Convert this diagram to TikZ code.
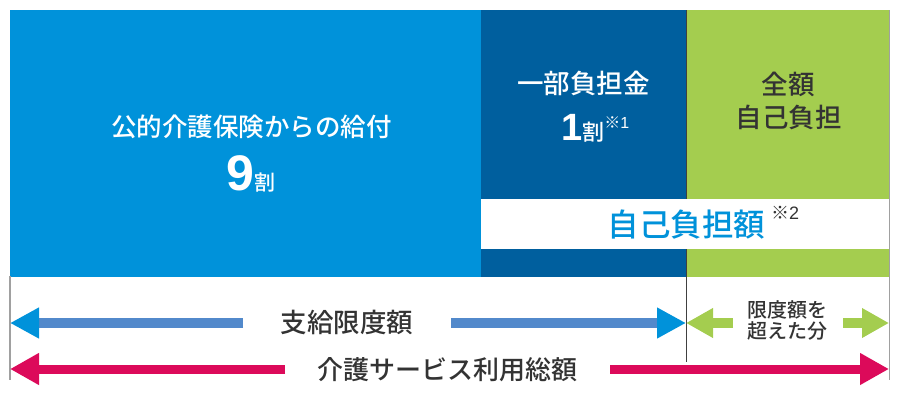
\documentclass[tikz,border=0pt]{standalone}
\usepackage{fontspec}
\setmainfont{Noto Sans CJK JP}
\newfontfamily\jpfont{Noto Sans CJK JP Medium}
\newfontfamily\numfont{Liberation Sans}
\usetikzlibrary{arrows.meta}
\definecolor{lblue}{RGB}{0,146,218}
\definecolor{dblue}{RGB}{0,95,158}
\definecolor{lgreen}{RGB}{164,205,79}
\definecolor{shaftblue}{RGB}{82,137,203}
\definecolor{magenta2}{RGB}{220,10,90}
\definecolor{txtgray}{RGB}{51,51,51}
\definecolor{edgegray}{RGB}{160,160,160}
\begin{document}
\begin{tikzpicture}[x=1pt,y=-1pt,
  block/.style={draw=none,inner sep=0pt,outer sep=0pt,anchor=north west},
  wtxt/.style={inner sep=0pt,text=white},
  gtxt/.style={inner sep=0pt,text=txtgray},
  fs/.style={font=\jpfont\fontsize{#1}{#1}\selectfont},
  bluearrow/.style={line width=10pt,draw=shaftblue,-{Triangle[length=29pt,width=29pt,color=lblue]}},
  greenarrow/.style={line width=10pt,draw=lgreen,-{Triangle[length=27pt,width=28pt]}},
  magarrow/.style={line width=9pt,draw=magenta2,-{Triangle[length=29pt,width=30pt]}}
]
\useasboundingbox (0,0) rectangle (900,407);
% blocks
\node[block,fill=lblue,minimum width=471pt,minimum height=267pt] (pub) at (10,10) {};
\node[block,fill=dblue,minimum width=205pt,minimum height=267pt] (part) at (481,10) {};
\node[block,fill=lgreen,minimum width=203pt,minimum height=267pt] (full) at (686,10) {};
% divider and edges
\coordinate (divtop) at (686,10);
\coordinate (divbot) at (686,362);
\draw[line width=0.9pt,black!75] (divtop) -- (divbot);
\coordinate (ltop) at (10,276);
\coordinate (lbot) at (10,380);
\draw[line width=1.5pt,edgegray] (ltop) -- (lbot);
\coordinate (rtop) at (889.5,10);
\coordinate (rbot) at (889.5,380);
\draw[line width=1.5pt,edgegray] (rtop) -- (rbot);
% white band
\node[block,fill=white,minimum width=408pt,minimum height=50pt] (band) at (481,199) {};
% texts in blocks
\node[wtxt,fs=25.5] (kyufu) at (251.5,127) {公的介護保険からの給付};
\node[wtxt,anchor=base west] (nine) at (226,190) {{\numfont\bfseries\fontsize{50}{50}\selectfont 9}{\jpfont\fontsize{21}{21}\selectfont 割}};
\node[wtxt,fs=26.5] (ichibu) at (583.5,83) {一部負担金};
\node[wtxt,anchor=base west] (one) at (561,140) {{\numfont\bfseries\fontsize{38}{38}\selectfont 1}{\jpfont\fontsize{22}{22}\selectfont 割}\raisebox{12pt}{\jpfont\fontsize{16}{16}\selectfont ※\numfont 1}};
\node[gtxt,fs=26.5] (zengaku) at (788,84) {全額};
\node[gtxt,fs=26.5] (jikofutan) at (788.5,117) {自己負担};
\node[inner sep=0pt,text=lblue,fs=31.5] (jikogaku) at (686.5,225) {自己負担額};
\node[inner sep=0pt,text=txtgray,anchor=west,font=\jpfont\fontsize{18}{18}\selectfont] (note2) at (771,213) {※\numfont 2};
% labels
\node[gtxt,fs=26.5] (shikyu) at (347,322) {支給限度額};
\node[gtxt,fs=26] (sougaku) at (447.5,370) {介護サービス利用総額};
\node[gtxt,font=\jpfont\fontsize{20}{20}\selectfont,align=center] (excess) at (787.5,320) {限度額を\\[1pt]超えた分};
% arrow coordinates
\coordinate (bL) at (10,323);
\coordinate (bLt) at (243,323);
\coordinate (bRt) at (451,323);
\coordinate (bR) at (686,323);
\coordinate (gLt) at (733,323);
\coordinate (gRt) at (843,323);
\coordinate (gR) at (889,323);
\coordinate (mL) at (10,369);
\coordinate (mLt) at (285,369);
\coordinate (mRt) at (610,369);
\coordinate (mR) at (889,369);
% arrows
\draw[bluearrow] (bLt) -- (bL);
\draw[bluearrow] (bRt) -- (bR);
\draw[greenarrow] (gLt) -- (bR);
\draw[greenarrow] (gRt) -- (gR);
\draw[magarrow] (mLt) -- (mL);
\draw[magarrow] (mRt) -- (mR);
\end{tikzpicture}
\end{document}
